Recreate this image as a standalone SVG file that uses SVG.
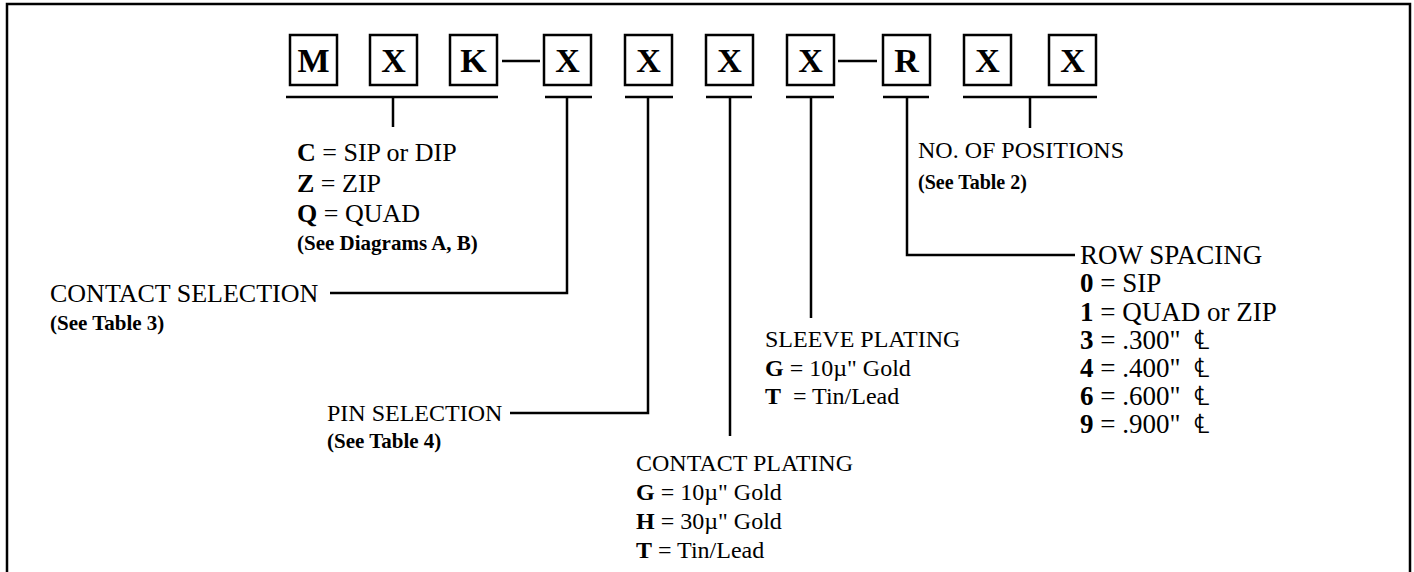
<svg xmlns="http://www.w3.org/2000/svg" width="1414" height="572" viewBox="0 0 1414 572">
<style>
.ln{stroke:#000;stroke-width:2.5;fill:none}
.bx{stroke:#000;stroke-width:2.5;fill:#fff}
.lt{font-family:"Liberation Serif","Times New Roman",serif;font-weight:bold;font-size:34px;text-anchor:middle;fill:#000}
.t{font-family:"Liberation Serif","Times New Roman","DejaVu Serif",serif;font-size:24px;fill:#000}
.t2{font-family:"Liberation Serif","Times New Roman","DejaVu Serif",serif;font-size:26px;fill:#000}
.t3{font-family:"Liberation Serif","Times New Roman","DejaVu Serif",serif;font-size:27px;fill:#000}
.s{font-family:"Liberation Serif","Times New Roman",serif;font-size:20px;font-weight:bold;fill:#000}
.s2{font-family:"Liberation Serif","Times New Roman",serif;font-size:21px;font-weight:bold;fill:#000}
.b{font-weight:bold}
</style>
<rect width="1414" height="572" fill="#fff"/>
<path class="ln" d="M7,572 V4 H1410 V572" stroke-width="3.5"/>
<g id="code">
<g id="box-M"><rect class="bx" x="290" y="35" width="47" height="50"/><text class="lt" x="313.5" y="72">M</text></g>
<g id="box-X1"><rect class="bx" x="370" y="35" width="47" height="50"/><text class="lt" x="393.5" y="72">X</text></g>
<g id="box-K"><rect class="bx" x="450" y="35" width="47" height="50"/><text class="lt" x="473.5" y="72">K</text></g>
<g id="box-X2"><rect class="bx" x="544" y="35" width="47" height="50"/><text class="lt" x="567.5" y="72">X</text></g>
<g id="box-X3"><rect class="bx" x="625" y="35" width="47" height="50"/><text class="lt" x="648.5" y="72">X</text></g>
<g id="box-X4"><rect class="bx" x="706" y="35" width="47" height="50"/><text class="lt" x="729.5" y="72">X</text></g>
<g id="box-X5"><rect class="bx" x="787" y="35" width="47" height="50"/><text class="lt" x="810.5" y="72">X</text></g>
<g id="box-R"><rect class="bx" x="883" y="35" width="47" height="50"/><text class="lt" x="906.5" y="72">R</text></g>
<g id="box-X6"><rect class="bx" x="964" y="35" width="47" height="50"/><text class="lt" x="987.5" y="72">X</text></g>
<g id="box-X7"><rect class="bx" x="1049" y="35" width="47" height="50"/><text class="lt" x="1072.5" y="72">X</text></g>
</g>
<g id="connectors">
<path class="ln" d="M502,61 H540 M838,61 H877"/>
<path class="ln" d="M286,97 H498 M393,97 V127"/>
<path class="ln" d="M545,97 H592 M567,97 V293 H330"/>
<path class="ln" d="M625,97 H673 M648,97 V413 H510"/>
<path class="ln" d="M706,97 H752 M730,97 V436"/>
<path class="ln" d="M786,97 H834 M811,97 V318"/>
<path class="ln" d="M883,97 H929 M907,97 V255 H1075"/>
<path class="ln" d="M963,97 H1097 M1030,97 V128"/>
</g>
<g id="family">
<text class="t2" x="297" y="161"><tspan class="b">C</tspan> = SIP or DIP</text>
<text class="t2" x="297" y="192"><tspan class="b">Z</tspan> = ZIP</text>
<text class="t2" x="297" y="222"><tspan class="b">Q</tspan> = QUAD</text>
<text class="s2" x="297" y="250">(See Diagrams A, B)</text>
</g>
<g id="contact-selection">
<text class="t2" x="50" y="302">CONTACT SELECTION</text>
<text class="s2" x="50" y="330">(See Table 3)</text>
</g>
<g id="pin-selection">
<text class="t" x="327" y="421">PIN SELECTION</text>
<text class="s2" x="327" y="448">(See Table 4)</text>
</g>
<g id="contact-plating">
<text class="t" x="636" y="471">CONTACT PLATING</text>
<text class="t" x="636" y="500"><tspan class="b">G</tspan> = 10µ" Gold</text>
<text class="t" x="636" y="529"><tspan class="b">H</tspan> = 30µ" Gold</text>
<text class="t" x="636" y="558"><tspan class="b">T</tspan> = Tin/Lead</text>
</g>
<g id="sleeve-plating">
<text class="t" x="765" y="347">SLEEVE PLATING</text>
<text class="t" x="765" y="376"><tspan class="b">G</tspan> = 10µ" Gold</text>
<text class="t" x="765" y="404" xml:space="preserve"><tspan class="b">T</tspan>  = Tin/Lead</text>
</g>
<g id="positions">
<text class="t" x="918" y="158">NO. OF POSITIONS</text>
<text class="s" x="918" y="189">(See Table 2)</text>
</g>
<g id="row-spacing">
<text class="t3" x="1080" y="264">ROW SPACING</text>
<text class="t3" x="1080" y="292"><tspan class="b">0</tspan> = SIP</text>
<text class="t3" x="1080" y="321"><tspan class="b">1</tspan> = QUAD or ZIP</text>
<text class="t3" x="1080" y="349" xml:space="preserve"><tspan class="b">3</tspan> = .300"  ℄</text>
<text class="t3" x="1080" y="377" xml:space="preserve"><tspan class="b">4</tspan> = .400"  ℄</text>
<text class="t3" x="1080" y="405" xml:space="preserve"><tspan class="b">6</tspan> = .600"  ℄</text>
<text class="t3" x="1080" y="433" xml:space="preserve"><tspan class="b">9</tspan> = .900"  ℄</text>
</g>
</svg>
